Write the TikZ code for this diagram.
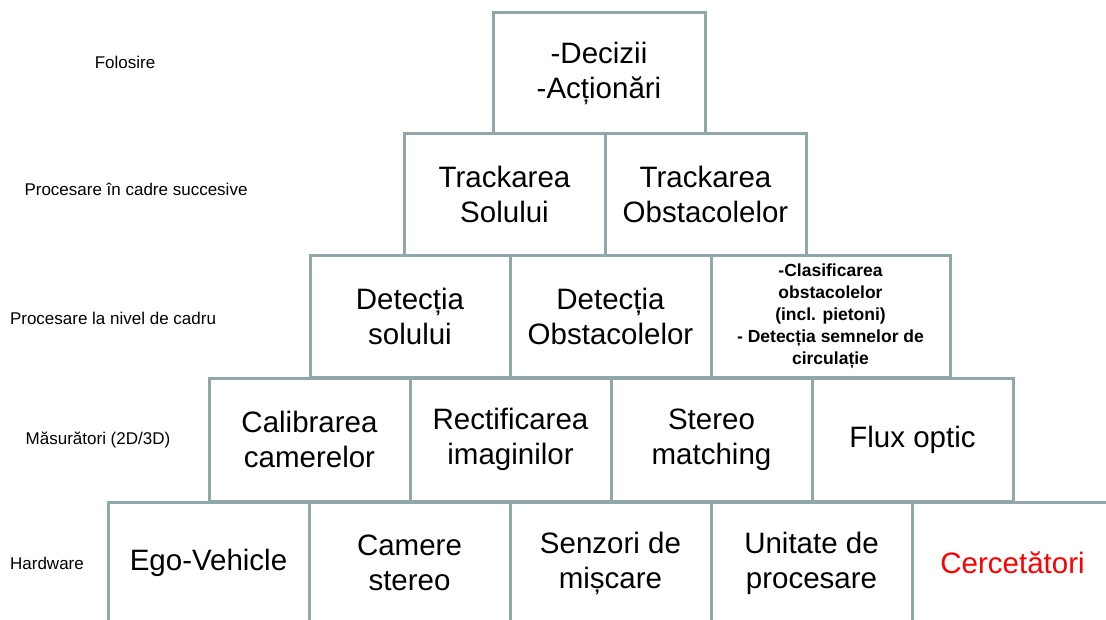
\documentclass[tikz,border=0pt]{standalone}
\usepackage{fontspec}
\setmainfont{Liberation Sans}
\usetikzlibrary{positioning}
\definecolor{pyrline}{RGB}{145,167,170}

\begin{document}
\begin{tikzpicture}[x=1pt,y=-1pt]
    % `brick' is used for every box of the pyramid.
    % `small' is used for the bold text of the crowded box.
    % `lvl' is used for the level names on the left.
    \tikzstyle{brick} = [draw=pyrline,line width=3pt,fill=white,outer sep=0pt,inner sep=0pt,minimum width=201pt,minimum height=122pt,align=center,font=\fontsize{29.5}{35}\selectfont]
    \tikzstyle{small} = [font=\fontsize{17.5}{22}\bfseries\selectfont]
    \tikzstyle{lvl} = [font=\fontsize{17}{20}\selectfont]
    %
    \useasboundingbox (0,0) rectangle (1106,619);
    \clip (0,0) rectangle (1106,619);
    % Top.
    \node[brick,minimum width=212pt] (use1) at (599,73) {-Decizii\\-Acționări};
    % Tracking.
    \node[brick] (trk1) at (504.5,194) {Trackarea\\Solului};
    \node[brick,right=0pt of trk1] (trk2) {Trackarea\\Obstacolelor};
    % Frame level.
    \node[brick,minimum width=200pt] (det1) at (410,316) {Detecția\\solului};
    \node[brick,right=0pt of det1] (det2) {Detecția\\Obstacolelor};
    \node[brick,small,minimum width=239pt,right=0pt of det2] (det3) {-Clasificarea\\obstacolelor\\(incl. pietoni)\\- Detecția semnelor de\\circulație};
    % Measurements.
    \node[brick,minimum height=123pt] (mes1) at (309.5,439.5) {Calibrarea\\camerelor};
    \node[brick,minimum height=123pt,right=0pt of mes1] (mes2) {Rectificarea\\imaginilor};
    \node[brick,minimum height=123pt,right=0pt of mes2] (mes3) {Stereo\\matching};
    \node[brick,minimum height=123pt,right=0pt of mes3] (mes4) {Flux optic};
    % Hardware.
    \node[brick] (hw1) at (208.5,563) {Ego-Vehicle};
    \node[brick,right=0pt of hw1] (hw2) {Camere\\stereo};
    \node[brick,right=0pt of hw2] (hw3) {Senzori de\\mișcare};
    \node[brick,right=0pt of hw3] (hw4) {Unitate de\\procesare};
    \node[brick,text=red,right=0pt of hw4] (hw5) {Cercetători};
    % Level names.
    \node[lvl] (lbl1) at (125,62) {Folosire};
    \node[lvl] (lbl2) at (136,189) {Procesare în cadre succesive};
    \node[lvl] (lbl3) at (113,318) {Procesare la nivel de cadru};
    \node[lvl] (lbl4) at (98,440) {Măsurători (2D/3D)};
    \node[lvl] (lbl5) at (47,563) {Hardware};
\end{tikzpicture}
\end{document}
